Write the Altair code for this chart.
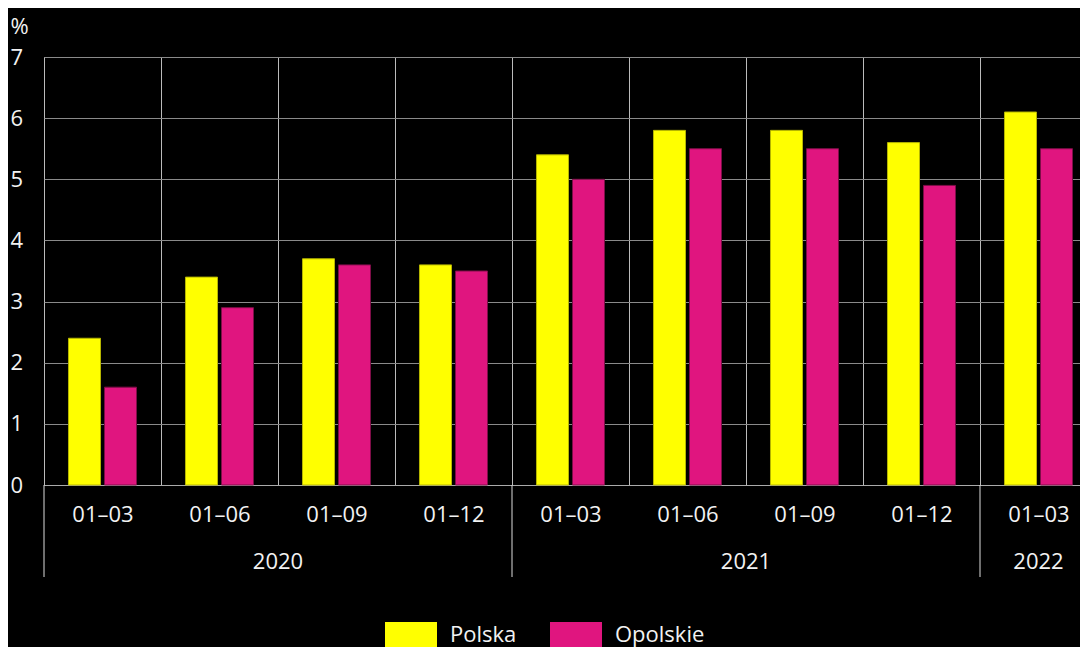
import altair as alt
import pandas as pd

years = ["2020", "2020", "2020", "2020", "2021", "2021", "2021", "2021", "2022"]
periods = ["01–03", "01–06", "01–09", "01–12", "01–03", "01–06", "01–09", "01–12", "01–03"]
polska = [2.4, 3.4, 3.7, 3.6, 5.4, 5.8, 5.8, 5.6, 6.1]
opolskie = [1.6, 2.9, 3.6, 3.5, 5.0, 5.5, 5.5, 4.9, 5.5]
series = ["Polska", "Opolskie"]
fills = ["#FFFF00", "#E0157F"]
strokes = ["#B5B500", "#7E0E48"]
y_ticks = [0, 1, 2, 3, 4, 5, 6, 7]

cats = [f"{y} {p}" for y, p in zip(years, periods)]
rows = []
for i, c in enumerate(cats):
    rows.append(dict(cat=c, series="Polska", value=polska[i]))
    rows.append(dict(cat=c, series="Opolskie", value=opolskie[i]))
df = pd.DataFrame(rows)

year_mid = pd.DataFrame({"cat": [cats[2], cats[6]], "year": ["2020", "2021"]})
year_last = pd.DataFrame({"cat": [cats[8]], "year": ["2022"]})
year_start = pd.DataFrame({"cat": [cats[0], cats[4], cats[8]]})

W, H = 1036, 428
BAND_RANGE = 1053
FONT = "Open Sans"
TXT = "#f2f2f2"

xscale = alt.Scale(domain=cats, paddingInner=0, paddingOuter=0, range=[0, BAND_RANGE])

bars = alt.Chart(df).mark_bar(strokeWidth=1).encode(
    x=alt.X("cat:N", scale=xscale, sort=cats,
            axis=alt.Axis(title=None, labelExpr="split(datum.value, ' ')[1]",
                          tickBand="extent", grid=True, gridColor="#bbbbbb", gridWidth=1,
                          ticks=False, domainColor="#aaaaaa", labelPadding=19,
                          labelFontSize=22, labelFont=FONT, labelColor=TXT, labelAngle=0)),
    xOffset=alt.XOffset("series:N", sort=series,
                        scale=alt.Scale(paddingInner=0.111, paddingOuter=0.68)),
    y=alt.Y("value:Q", scale=alt.Scale(domain=[0, 7], nice=False),
            axis=alt.Axis(values=y_ticks, title="%", titleAngle=0, titleX=-34, titleY=-24,
                          titleAlign="left", titleBaseline="alphabetic", titleFont=FONT,
                          titleFontSize=22, titleFontWeight="normal", titleColor=TXT,
                          grid=True, gridColor="#8a8a8a", ticks=False, domain=False,
                          labelAlign="left", labelPadding=34, labelFontSize=22,
                          labelFont=FONT, labelColor=TXT)),
    fill=alt.Fill("series:N", sort=series, scale=alt.Scale(domain=series, range=fills),
                  legend=alt.Legend(title=None, orient="none", legendX=341, legendY=552,
                                    direction="horizontal",
                                    symbolType="M-1,-0.5H1V0.5H-1Z", symbolSize=2704,
                                    symbolStrokeWidth=0, labelFont=FONT, labelFontSize=22,
                                    labelColor=TXT, labelOffset=13, columnPadding=33)),
    stroke=alt.Stroke("series:N", scale=alt.Scale(domain=series, range=strokes), legend=None),
)

seps = alt.Chart(year_start).mark_rule(color="#dddddd", strokeWidth=1).encode(
    x=alt.X("cat:N", bandPosition=0),
    y=alt.value(H), y2=alt.value(H + 92),
)

ylab1 = alt.Chart(year_mid).mark_text(font=FONT, fontSize=22, color=TXT, baseline="alphabetic").encode(
    x=alt.X("cat:N", bandPosition=0), y=alt.value(H + 84), text="year:N")
ylab2 = alt.Chart(year_last).mark_text(font=FONT, fontSize=22, color=TXT, baseline="alphabetic").encode(
    x=alt.X("cat:N", bandPosition=0.5), y=alt.value(H + 84), text="year:N")

chart = alt.layer(bars, seps, ylab1, ylab2).properties(
    width=W, height=H,
    autosize=alt.AutoSizeParams(type="none"),
    padding={"left": 36, "top": 49, "right": 0, "bottom": 162},
    background="#000000",
).configure_view(stroke="#bbbbbb", strokeWidth=1)

chart.save("out.html", embed_options={"renderer": "svg", "actions": False})
